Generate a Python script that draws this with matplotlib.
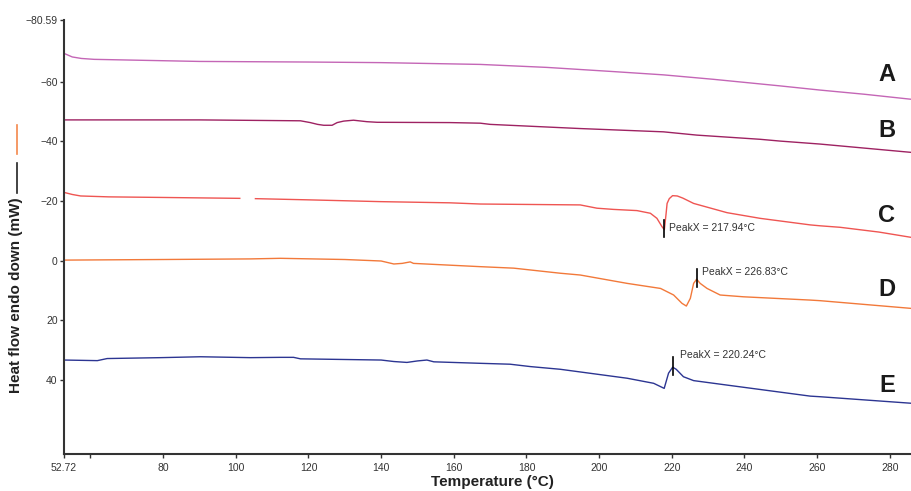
import numpy as np
import matplotlib
matplotlib.use("Agg")
import matplotlib.pyplot as plt
from matplotlib.lines import Line2D

plt.rcParams['font.family'] = ['Liberation Sans', 'DejaVu Sans']

# ---------------- data ----------------
A_T = [52.72, 55, 57.5, 61, 90, 120, 140, 167.3, 185.6, 203.9, 217.7, 231.5, 249.8, 260.8, 273, 286]
A_y = [-69.5, -68.3, -67.8, -67.5, -66.8, -66.6, -66.4, -65.8, -64.8, -63.4, -62.3, -60.8, -58.6, -57.2, -55.8, -54.1]

B_T = [52.72, 90, 117.8, 120.5, 122.5, 124.2, 126.5, 127.9, 129.7, 132.4, 136.1, 138.9, 159, 167.3,
       170, 194.8, 217.7, 226.9, 244.3, 249.8, 260.8, 286]
B_y = [-47.2, -47.2, -46.9, -46.3, -45.7, -45.4, -45.4, -46.3, -46.8, -47.1, -46.6, -46.4, -46.3, -46.1,
       -45.7, -44.3, -43.2, -42.1, -40.7, -40.1, -39.1, -36.3]

C_T = [52.72, 55, 57.3, 65, 80, 101.1, np.nan, 105.4, 120, 139.8, 159, 167.3, 194.8, 199.4, 203.9,
       210.4, 214.1, 215.9, 217.3, 217.94, 218.4, 218.7, 219.3, 220.2, 221.5, 223, 226, 235.2, 244.3,
       258.1, 260.8, 266.3, 277, 286]
C_y = [-22.9, -22.2, -21.7, -21.4, -21.2, -20.9, np.nan, -20.8, -20.4, -19.8, -19.4, -19.0, -18.7, -17.6, -17.2,
       -16.8, -15.9, -14.2, -11.4, -10.4, -15.5, -19.2, -20.8, -21.8, -21.7, -21.0, -19.2, -16.1, -14.2,
       -12.0, -11.7, -11.2, -9.6, -7.8]

D_T = [52.72, 80, 104, 112.3, 130, 140, 143.5, 145.8, 148, 148.9, 167.3, 176.5, 189.3, 194.8, 207.7,
       216.9, 220.5, 222.8, 224, 225.1, 226, 226.83, 227.8, 229.7, 233.3, 239.7, 258.1, 260.8, 286]
D_y = [-0.2, -0.4, -0.6, -0.8, -0.4, 0.1, 1.1, 0.9, 0.4, 0.9, 2.0, 2.5, 4.2, 4.8, 7.6,
       9.3, 11.5, 14.3, 15.2, 12.6, 7.6, 6.2, 7.6, 9.3, 11.5, 12.1, 13.2, 13.4, 16.0]

E_T = [52.72, 61.9, 64.6, 79.3, 90.3, 104, 112.3, 115.9, 117.8, 140, 143.5, 147.1, 150, 152.6, 154.5,
       167.3, 175.5, 181.1, 189.3, 207.7, 215, 217.9, 219.1, 220.24, 221.2, 223.2, 226, 235.2, 258.1,
       260.8, 286]
E_y = [33.3, 33.5, 32.8, 32.5, 32.2, 32.5, 32.4, 32.4, 32.9, 33.3, 33.8, 34.1, 33.6, 33.3, 33.9,
       34.4, 34.7, 35.5, 36.4, 39.4, 41.1, 42.8, 37.7, 35.7, 36.4, 38.9, 40.2, 41.7, 45.4,
       45.6, 47.8]

series_names = ["A", "B", "C", "D", "E"]
series_T = [A_T, B_T, C_T, D_T, E_T]
series_y = [A_y, B_y, C_y, D_y, E_y]
series_colors = ["#c466b6", "#9e2262", "#ef5552", "#f2793a", "#2c3592"]
letter_y = [-62.3, -43.8, -15.3, 9.8, 41.7]

peak_T = [217.94, 226.83, 220.24]
peak_y = [-10.4, 6.2, 35.7]
peak_labels = ["PeakX = 217.94°C", "PeakX = 226.83°C", "PeakX = 220.24°C"]

xticks = [52.72, 60, 80, 100, 120, 140, 160, 180, 200, 220, 240, 260, 280]
xticklabels = ["52.72", "", "80", "100", "120", "140", "160", "180", "200", "220", "240", "260", "280"]
yticks = [-80.59, -60, -40, -20, 0, 20, 40]
yticklabels = ["\u221280.59", "\u221260", "\u221240", "\u221220", "0", "20", "40"]

# ---------------- figure ----------------
fig = plt.figure(figsize=(9.12, 4.91), dpi=100)
ax = fig.add_axes([64 / 912, 37 / 491, 1 - 64 / 912, (454 - 20.3) / 491])

for T, y, c in zip(series_T, series_y, series_colors):
    ax.plot(T, y, color=c, lw=1.0, solid_joinstyle='round')

for name, ly in zip(series_names, letter_y):
    ax.text(279.2, ly, name, fontsize=17, fontweight='bold', color='#1a1a1a',
            ha='center', va='center')

offsets = [(3, 0), (4, 4), (5, 8)]
for pt, py, lab, off in zip(peak_T, peak_y, peak_labels, offsets):
    yc = py - 0.4
    ax.plot([pt, pt], [yc - 2.9, yc + 2.9], color='black', lw=1.2)
    ax.annotate(lab, xy=(pt, yc), xytext=off, textcoords='offset points',
                fontsize=7.5, color='#333333', ha='left', va='center')

ax.set_xlim(52.72, 286.1)
ax.set_ylim(64.8, -80.59)

ax.set_xticks(xticks)
ax.set_xticklabels(xticklabels)
ax.set_yticks(yticks)
ax.set_yticklabels(yticklabels)

for s in ['top', 'right']:
    ax.spines[s].set_visible(False)
for s in ['left', 'bottom']:
    ax.spines[s].set_linewidth(1.5)
    ax.spines[s].set_color('#333333')
ax.tick_params(axis='both', direction='out', length=3, width=1.0, color='#333333',
               labelsize=7.5, labelcolor='#333333')
ax.tick_params(axis='x', pad=3.5)
ax.tick_params(axis='y', pad=1.5)

fig.text(492 / 912, 1 - 482 / 491, "Temperature (°C)", fontsize=11, fontweight='bold',
         color='#222222', ha='center', va='center')
fig.text(16.5 / 912, 1 - 295 / 491, "Heat flow endo down (mW)", fontsize=11, fontweight='bold',
         color='#222222', ha='center', va='center', rotation=90)
fig.add_artist(Line2D([16.5 / 912, 16.5 / 912], [1 - 163 / 491, 1 - 193 / 491],
                      color='#222222', lw=1.2, transform=fig.transFigure))
fig.add_artist(Line2D([16.5 / 912, 16.5 / 912], [1 - 125 / 491, 1 - 154 / 491],
                      color='#f4874b', lw=1.2, transform=fig.transFigure))

fig.savefig("out.png", dpi=100)
